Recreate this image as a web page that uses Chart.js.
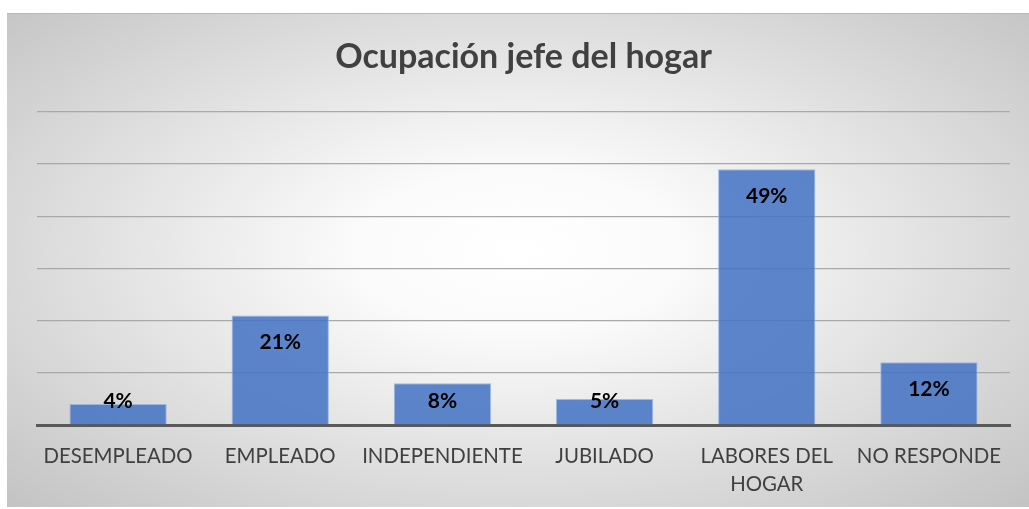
<!DOCTYPE html>
<html>
<head>
<meta charset="utf-8">
<script src="https://cdn.jsdelivr.net/npm/chart.js@4"></script>
<style>
  body { margin: 0; background: #fff; }
  #caja {
    position: absolute; left: 7px; top: 13px; width: 1022px; height: 494px;
    background: radial-gradient(ellipse farthest-corner at 50% 48%, #ffffff 0%, #fbfbfb 22%, #c3c3c3 100%);
    border-top: 1px solid #b8b8b8;
    box-sizing: border-box;
  }
</style>
</head>
<body>
<div id="caja"><canvas id="grafico" width="1022" height="493"></canvas></div>
<script>
const categorias = ['DESEMPLEADO', 'EMPLEADO', 'INDEPENDIENTE', 'JUBILADO', ['LABORES DEL', 'HOGAR'], 'NO RESPONDE'];
const porcentajes = [4, 21, 8, 5, 49, 12];
const titulo = 'Ocupación jefe del hogar';

// etiquetas dentro del extremo de la barra (estilo Excel)
const etiquetas = {
    id: 'etiquetas',
    afterDatasetsDraw(chart) {
        const ctx = chart.ctx;
        const base = chart.scales.y.getPixelForValue(0);
        ctx.save();
        ctx.font = 'bold 21px Lato';
        ctx.fillStyle = '#000';
        ctx.textAlign = 'center';
        ctx.textBaseline = 'middle';
        chart.getDatasetMeta(0).data.forEach((barra, i) => {
            const y = Math.min(barra.y + 27, base - 24);
            ctx.fillText(porcentajes[i] + '%', barra.x, y);
        });
        ctx.restore();
    }
};

new Chart(document.getElementById('grafico'), {
    type: 'bar',
    data: {
        labels: categorias,
        datasets: [{
            data: porcentajes,
            backgroundColor: 'rgba(68,114,196,0.86)',
            borderColor: 'rgba(150,178,225,0.9)',
            borderWidth: 1,
            barPercentage: 0.6,
            categoryPercentage: 1
        }]
    },
    options: {
        responsive: false,
        animation: false,
        layout: { padding: { left: 30, right: 19, top: 0, bottom: 0 } },
        plugins: {
            legend: { display: false },
            tooltip: { enabled: false },
            title: {
                display: true,
                text: titulo,
                color: '#404040',
                font: { family: 'Lato', size: 34, weight: 'bold' },
                padding: { top: 23, bottom: 34 }
            }
        },
        scales: {
            x: {
                grid: { display: false, drawTicks: false },
                border: { display: true, color: '#595959', width: 3 },
                ticks: {
                    color: '#404040',
                    font: { family: 'Lato', size: 20.4, lineHeight: 1.37 },
                    padding: 17,
                    maxRotation: 0,
                    autoSkip: false
                },
                afterFit(s) { s.height = 82; }
            },
            y: {
                min: 0,
                max: 60,
                ticks: { display: false, stepSize: 10 },
                grid: { color: '#a9a9a9', lineWidth: 1.3, drawTicks: false },
                border: { display: false },
                afterFit(s) { s.width = 0; }
            }
        }
    },
    plugins: [etiquetas]
});
</script>
</body>
</html>
